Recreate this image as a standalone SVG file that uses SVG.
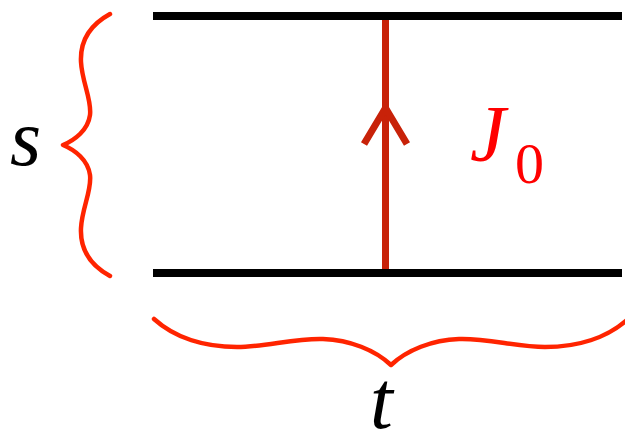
<svg xmlns="http://www.w3.org/2000/svg" width="625" height="446" viewBox="0 0 625 446">
<style>
.plate{stroke:#000;stroke-width:8;fill:none}
.brace{stroke:#ff2400;stroke-width:4.5;fill:none;stroke-linecap:round;stroke-linejoin:round}
.cur{stroke:#c82209;stroke-width:7;fill:none}
.math{font-family:'Liberation Serif','DejaVu Serif',serif;font-style:italic}
.num{font-family:'Liberation Serif','DejaVu Serif',serif}
</style>
<rect width="625" height="446" fill="#fff"/>
<g id="plate-top"><line class="plate" x1="153" y1="16" x2="622" y2="16"/></g>
<g id="plate-bottom"><line class="plate" x1="153" y1="273" x2="622" y2="273"/></g>
<g id="connectors">
<line class="cur" x1="385.5" y1="20" x2="385.5" y2="269"/>
<polyline class="cur" stroke-width="6" points="364,144 385.5,108 407,144"/>
</g>
<g id="label-J0">
<text class="math" x="470" y="161" font-size="80" fill="#ff0000">J</text>
<text class="num" x="515" y="183" font-size="58" fill="#ff0000">0</text>
</g>
<g id="brace-s">
<path class="brace" d="M110,14 C88,26 80,42 81,62 C82,82 92,100 90,115 C88,130 75,140 63,145 C75,150 88,160 90,175 C92,190 82,208 81,228 C80,248 88,264 110,276"/>
<text class="math" x="10" y="165" font-size="80" fill="#000">s</text>
</g>
<g id="brace-t">
<path class="brace" d="M154,319 C175,338 205,347 237,347 C265,347 295,338 323,339 C350,340 375,350 391,365 C407,350 432,340 459,339 C487,338 517,347 545,347 C577,347 607,338 628,319"/>
<text class="math" x="370" y="428" font-size="82" fill="#000">t</text>
</g>
</svg>
